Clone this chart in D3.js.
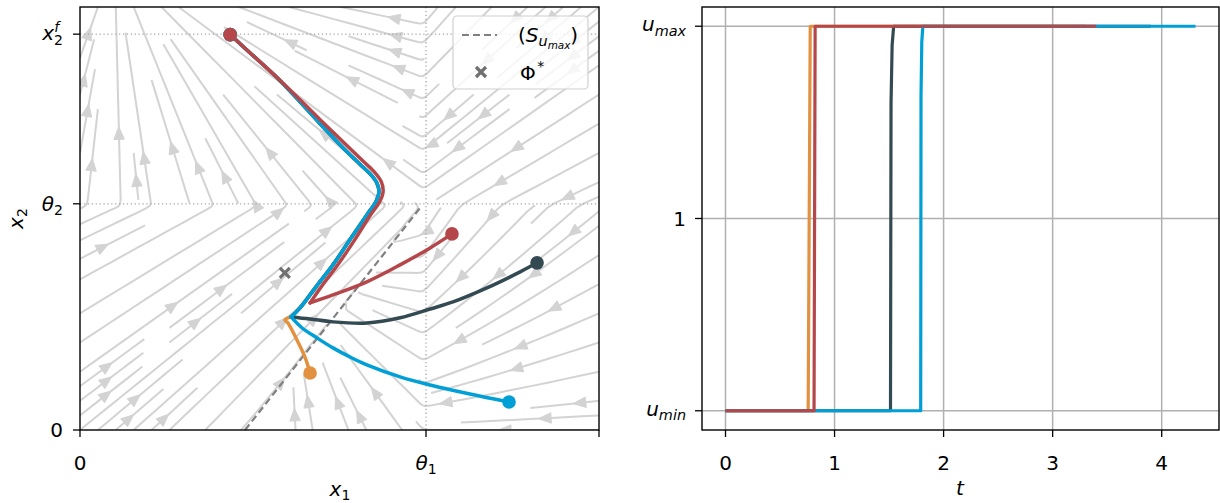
<!DOCTYPE html>
<html><head><meta charset="utf-8">
<script src="https://cdn.jsdelivr.net/npm/d3@7"></script>
<style>
body{margin:0;background:#fff}
svg{display:block}
text{font-family:"DejaVu Sans",sans-serif;fill:#000}
</style>
</head><body>
<svg id="c" width="1220" height="503"></svg>
<script>
// ================= DATA =================
const theta1 = 1.0, theta2 = 1.0, x2f = 1.75;
const x1Max = 1.5, x2Max = 1.87;
const uMin = 0.5, uMax = 1.5;

// switching curve (S_umax) and Phi*
const sX1 = [0.477, 0.983];
const sX2 = [0.0, 0.982];
const phiStar = [0.592, 0.695];

// shared u_max arc (orange, dark, cyan)
const arcX1 = [0.610, 0.636, 0.682, 0.731, 0.780, 0.829, 0.855, 0.864, 0.858, 0.840, 0.809, 0.760, 0.694, 0.636, 0.564, 0.491, 0.434];
const arcX2 = [0.500, 0.540, 0.633, 0.730, 0.841, 0.951, 1.009, 1.053, 1.092, 1.130, 1.175, 1.248, 1.354, 1.451, 1.566, 1.668, 1.748];

// u_min parts
const orangeX1 = [0.665, 0.650, 0.627, 0.601, 0.592, 0.610];
const orangeX2 = [0.252, 0.323, 0.398, 0.473, 0.487, 0.500];
const darkX1 = [1.321, 1.272, 1.176, 1.078, 1.012, 0.925, 0.829, 0.731, 0.665, 0.610];
const darkX2 = [0.739, 0.699, 0.628, 0.566, 0.535, 0.496, 0.473, 0.478, 0.491, 0.500];
const cyanX1 = [1.240, 1.127, 1.012, 0.925, 0.829, 0.780, 0.731, 0.685, 0.642, 0.610];
const cyanX2 = [0.124, 0.159, 0.199, 0.235, 0.288, 0.323, 0.363, 0.407, 0.451, 0.500];
const redX1 = [1.075, 1.012, 0.925, 0.829, 0.731, 0.665];
const redX2 = [0.867, 0.805, 0.730, 0.655, 0.597, 0.562];
// red u_max part
const redArcX1 = [0.665, 0.699, 0.743, 0.792, 0.838, 0.866, 0.876, 0.871, 0.850, 0.817, 0.766, 0.694, 0.636, 0.564, 0.491, 0.434];
const redArcX2 = [0.562, 0.637, 0.726, 0.836, 0.947, 1.009, 1.053, 1.097, 1.142, 1.190, 1.265, 1.372, 1.460, 1.566, 1.668, 1.748];

// control u(t)
const tOrange = [0, 0.758, 0.777, 3.30];
const uOrange = [uMin, uMin, uMax, uMax];
const tDark = [0, 1.513, 1.518, 1.528, 1.542, 3.90];
const uDark = [uMin, uMin, 1.30, 1.45, uMax, uMax];
const tCyan = [0, 1.790, 1.793, 1.800, 1.810, 4.31];
const uCyan = [uMin, uMin, 1.32, 1.46, uMax, uMax];
const tRed = [0, 0.812, 0.822, 3.40];
const uRed = [uMin, uMin, uMax, uMax];

const tTicks = [0, 1, 2, 3, 4];

// background vector field: region targets / rates
const targetUL = [0.10, 2.08];
const targetUR = [0.0, 0.0];
const targetLR = [0.5, 0.0];
const ratesLR = [1.0, 1.3];
const targetLLmax = [1.7, 2.1];
const targetLLmin = [0.6, 0.7];

const colors = {orange: "#e1913f", dark: "#334a52", cyan: "#00a0d6", red: "#b5474b"};

// ================= LAYOUT =================
const svg = d3.select("#c");
const L = {x0: 80, x1: 599, y0: 7, y1: 430};
const R = {x0: 702, x1: 1219, y0: 7, y1: 430};
const FS = 20, TL = 7;

const xS = d3.scaleLinear().domain([0, x1Max]).range([L.x0, L.x1]);
const yS = d3.scaleLinear().domain([0, x2Max]).range([L.y1, L.y0]);

const tAll = [...tOrange, ...tDark, ...tCyan, ...tRed];
const tExt = d3.extent(tAll), tPad = (tExt[1] - tExt[0]) * 0.05;
const tx = d3.scaleLinear().domain([tExt[0] - tPad, tExt[1] + tPad]).range([R.x0, R.x1]);
const uPad = (uMax - uMin) * 0.05;
const uy = d3.scaleLinear().domain([uMin - uPad, uMax + uPad]).range([R.y1, R.y0]);

// math text helper
function mtext(g, x, y, parts, anchor, size, extra) {
  const t = g.append("text").attr("x", x).attr("y", y).attr("text-anchor", anchor || "start")
    .attr("font-size", size);
  if (extra) extra(t);
  let cur = 0;
  parts.forEach(p => {
    const sh = (p.sh || 0) * size;
    const ts = t.append("tspan").attr("dy", (sh - cur).toFixed(2))
      .attr("font-style", p.it ? "italic" : "normal")
      .attr("font-size", (p.sc || 1) * size).text(p.t);
    if (p.dx) ts.attr("dx", p.dx * size);
    cur = sh;
  });
  return t;
}

// ================= LEFT PANEL =================
const gL = svg.append("g");
svg.append("defs").append("clipPath").attr("id", "clipL").append("rect")
  .attr("x", L.x0).attr("y", L.y0).attr("width", L.x1 - L.x0).attr("height", L.y1 - L.y0);

function field(x1, x2) {
  let T, g = [1, 1];
  if (x2 >= theta2) {
    T = x1 < theta1 ? targetUL : targetUR;
  } else if (x1 >= theta1) {
    T = targetLR; g = ratesLR;
  } else {
    const sAt = sX1[0] + (sX1[1] - sX1[0]) * (x2 - sX2[0]) / (sX2[1] - sX2[0]);
    T = x1 < sAt ? targetLLmax : targetLLmin;
  }
  return [g[0] * (T[0] - x1), g[1] * (T[1] - x2)];
}

function streamplot() {
  const NG = 100, NM = 30;
  const Ug = new Float64Array(NG * NG), Vg = new Float64Array(NG * NG);
  for (let j = 0; j < NG; j++) for (let i = 0; i < NG; i++) {
    const v = field(i / (NG - 1) * x1Max, j / (NG - 1) * x2Max);
    Ug[j * NG + i] = v[0] / x1Max; Vg[j * NG + i] = v[1] / x2Max;
  }
  function interp(a, ax, ay) {
    const xg = ax * (NG - 1), yg = ay * (NG - 1);
    let i = Math.floor(xg), j = Math.floor(yg);
    if (i > NG - 2) i = NG - 2; if (j > NG - 2) j = NG - 2;
    const fx = xg - i, fy = yg - j;
    const a00 = a[j * NG + i], a01 = a[j * NG + i + 1], a10 = a[(j + 1) * NG + i], a11 = a[(j + 1) * NG + i + 1];
    return (a00 * (1 - fx) + a01 * fx) * (1 - fy) + (a10 * (1 - fx) + a11 * fx) * fy;
  }
  const inside = (x, y) => x >= 0 && x <= 1 && y >= 0 && y <= 1;
  function f(x, y, sg) {
    if (!inside(x, y)) throw "oob";
    const u = interp(Ug, x, y), v = interp(Vg, x, y);
    const s = Math.hypot(u, v);
    if (s === 0) throw "term";
    return [sg * u / s, sg * v / s];
  }
  const mask = new Uint8Array(NM * NM);
  let traj = [], cur = null;
  const mc = (x, y) => [Math.round(x * (NM - 1)), Math.round(y * (NM - 1))];
  function update(x, y) {
    if (!inside(x, y)) return false;
    const [xm, ym] = mc(x, y);
    if (!cur || cur[0] !== xm || cur[1] !== ym) {
      if (mask[ym * NM + xm] === 0) { traj.push(ym * NM + xm); mask[ym * NM + xm] = 1; cur = [xm, ym]; }
      else return false;
    }
    return true;
  }
  function rk12(x0, y0, sg) {
    const maxerror = 0.003, maxds = Math.min(1 / NM, 0.1), maxlength = 4;
    let ds = maxds, stotal = 0, xi = x0, yi = y0, it = 0;
    const pts = [];
    while (it++ < 20000) {
      let k1, k2;
      try {
        if (inside(xi, yi)) pts.push([xi, yi]); else throw "oob";
        k1 = f(xi, yi, sg);
        k2 = f(xi + ds * k1[0], yi + ds * k1[1], sg);
      } catch (e) {
        if (e === "oob" && pts.length) {
          const [px, py] = pts[pts.length - 1];
          try {
            const c = f(px, py, sg);
            const dsx = c[0] === 0 ? Infinity : (c[0] < 0 ? px / -c[0] : (1 - px) / c[0]);
            const dsy = c[1] === 0 ? Infinity : (c[1] < 0 ? py / -c[1] : (1 - py) / c[1]);
            const d = Math.min(dsx, dsy);
            if (isFinite(d)) { pts.push([px + c[0] * d, py + c[1] * d]); stotal += d; }
          } catch (e2) {}
        }
        break;
      }
      const dx1 = ds * k1[0], dy1 = ds * k1[1];
      const dx2 = ds * 0.5 * (k1[0] + k2[0]), dy2 = ds * 0.5 * (k1[1] + k2[1]);
      const err = Math.hypot(dx2 - dx1, dy2 - dy1);
      if (err < maxerror) {
        xi += dx2; yi += dy2;
        if (!update(xi, yi)) break;
        if (stotal + ds > maxlength) break;
        stotal += ds;
      }
      ds = err === 0 ? maxds : Math.min(maxds, 0.85 * ds * Math.sqrt(maxerror / err));
      if (ds < 1e-6) break;
    }
    return [stotal, pts];
  }
  function integrate(x0, y0) {
    traj = []; cur = null;
    if (!update(x0, y0)) return null;
    const [sb, pb] = rk12(x0, y0, -1);
    cur = mc(x0, y0);
    const [sf, pf] = rk12(x0, y0, 1);
    const all = pb.reverse().concat(pf.slice(1));
    if (sb + sf > 0.1) return all;
    traj.forEach(k => mask[k] = 0);
    return null;
  }
  // spiral seeds
  const seeds = [];
  {
    let xfirst = 0, yfirst = 1, xlast = NM - 1, ylast = NM - 1, x = 0, y = 0, dir = "right";
    for (let i = 0; i < NM * NM; i++) {
      seeds.push([x, y]);
      if (dir === "right") { x++; if (x >= xlast) { xlast--; dir = "up"; } }
      else if (dir === "up") { y++; if (y >= ylast) { ylast--; dir = "left"; } }
      else if (dir === "left") { x--; if (x <= xfirst) { xfirst++; dir = "down"; } }
      else { y--; if (y <= yfirst) { yfirst++; dir = "right"; } }
    }
  }
  const out = [];
  seeds.forEach(([xm, ym]) => {
    if (mask[ym * NM + xm] === 0) {
      const t = integrate(xm / (NM - 1), ym / (NM - 1));
      if (t) out.push(t.map(p => [p[0] * x1Max, p[1] * x2Max]));
    }
  });
  return out;
}

const streams = streamplot();
const gStream = gL.append("g").attr("clip-path", "url(#clipL)");
const sline = d3.line().x(d => xS(d[0])).y(d => yS(d[1]));
const SC = "#d3d3d3";
streams.forEach(tr => {
  gStream.append("path").attr("d", sline(tr)).attr("fill", "none")
    .attr("stroke", SC).attr("stroke-width", 2).attr("stroke-linejoin", "round");
});
streams.forEach(tr => {
  if (tr.length < 2) return;
  const s = [0];
  for (let i = 1; i < tr.length; i++) s.push(s[i - 1] + Math.hypot(tr[i][0] - tr[i - 1][0], tr[i][1] - tr[i - 1][1]));
  const cum = s.slice(1);
  const half = cum[cum.length - 1] / 2;
  let n = d3.bisectLeft(cum, half);
  if (n + 1 >= tr.length) return;
  const P = [xS(tr[n][0]), yS(tr[n][1])];
  const Q = [(xS(tr[n][0]) + xS(tr[n + 1][0])) / 2, (yS(tr[n][1]) + yS(tr[n + 1][1])) / 2];
  let dx = Q[0] - P[0], dy = Q[1] - P[1];
  const len = Math.hypot(dx, dy);
  if (len < 1e-9) return;
  dx /= len; dy /= len;
  const Lh = 12.5, W = 5.2;
  const bx = Q[0] - dx * Lh, by = Q[1] - dy * Lh;
  gStream.append("path")
    .attr("d", `M${Q[0]},${Q[1]}L${bx - dy * W},${by + dx * W}L${bx + dy * W},${by - dx * W}Z`)
    .attr("fill", SC).attr("stroke", SC).attr("stroke-width", 1);
});

// dotted reference lines
const gRef = gL.append("g");
[x2f, theta2].forEach(v => gRef.append("line").attr("x1", L.x0).attr("x2", L.x1)
  .attr("y1", yS(v)).attr("y2", yS(v)).attr("stroke", "#a8a8a8").attr("stroke-width", 1.3)
  .attr("stroke-dasharray", "1.3,2.6"));
gRef.append("line").attr("x1", xS(theta1)).attr("x2", xS(theta1)).attr("y1", L.y0).attr("y2", L.y1)
  .attr("stroke", "#a8a8a8").attr("stroke-width", 1.3).attr("stroke-dasharray", "1.3,2.6");

// switching curve
gL.append("path").attr("d", sline(sX1.map((v, i) => [v, sX2[i]])))
  .attr("fill", "none").attr("stroke", "#808080").attr("stroke-width", 2.2).attr("stroke-dasharray", "7,4");

// trajectories
const pairs = (a, b) => a.map((v, i) => [v, b[i]]);
const curve = d3.line().x(d => xS(d[0])).y(d => yS(d[1])).curve(d3.curveCatmullRom.alpha(0.5));
const trajs = [
  {c: colors.orange, parts: [pairs(orangeX1, orangeX2), pairs(arcX1, arcX2)]},
  {c: colors.dark, parts: [pairs(darkX1, darkX2), pairs(arcX1, arcX2)]},
  {c: colors.cyan, parts: [pairs(cyanX1, cyanX2), pairs(arcX1, arcX2)]},
  {c: colors.red, parts: [pairs(redX1, redX2), pairs(redArcX1, redArcX2)]}
];
const gT = gL.append("g");
trajs.forEach(tr => {
  tr.parts.forEach(p => gT.append("path").attr("d", curve(p)).attr("fill", "none")
    .attr("stroke", tr.c).attr("stroke-width", 3.5).attr("stroke-linecap", "round").attr("stroke-linejoin", "round"));
});
// Phi* marker
function xMark(g, cx, cy, r, col) {
  g.append("path").attr("d", `M${cx - r},${cy - r}L${cx + r},${cy + r}M${cx - r},${cy + r}L${cx + r},${cy - r}`)
    .attr("stroke", col).attr("stroke-width", 3.2).attr("fill", "none");
}
xMark(gT, xS(phiStar[0]), yS(phiStar[1]), 5, "#707070");
// dots
trajs.forEach(tr => {
  const st = tr.parts[0][0], en = tr.parts[1][tr.parts[1].length - 1];
  [st, en].forEach(p => gT.append("circle").attr("cx", xS(p[0])).attr("cy", yS(p[1])).attr("r", 6.8).attr("fill", tr.c));
});

// spines & ticks (left)
const axL = gL.append("g");
axL.append("rect").attr("x", L.x0).attr("y", L.y0).attr("width", L.x1 - L.x0).attr("height", L.y1 - L.y0)
  .attr("fill", "none").attr("stroke", "#000").attr("stroke-width", 1.4);
const xTicksL = [0, theta1, x1Max];
const yTicksL = [0, theta2, x2f];
xTicksL.forEach(v => axL.append("line").attr("x1", xS(v)).attr("x2", xS(v)).attr("y1", L.y1).attr("y2", L.y1 + TL).attr("stroke", "#000").attr("stroke-width", 1.3));
yTicksL.forEach(v => axL.append("line").attr("x1", L.x0 - TL).attr("x2", L.x0).attr("y1", yS(v)).attr("y2", yS(v)).attr("stroke", "#000").attr("stroke-width", 1.3));
// tick labels
const xlY = 470, yLabEnd = L.x0 - 17;
mtext(axL, xS(0), xlY, [{t: "0"}], "middle", FS);
mtext(axL, xS(theta1), xlY, [{t: "θ", it: true}, {t: "1", sh: 0.22, sc: 0.7}], "middle", FS);
mtext(axL, yLabEnd, yS(0) + 7, [{t: "0"}], "end", FS);
mtext(axL, yLabEnd, yS(theta2) + 7, [{t: "θ", it: true}, {t: "2", sh: 0.22, sc: 0.7}], "end", FS);
mtext(axL, yLabEnd, yS(x2f) + 6, [{t: "x", it: true}, {t: "2", sh: 0.24, sc: 0.7}, {t: "f", it: true, sh: -0.42, sc: 0.7, dx: -0.44}], "end", FS);
// axis labels
mtext(axL, 340, 496, [{t: "x", it: true}, {t: "1", sh: 0.22, sc: 0.7}], "middle", FS);
mtext(axL, 0, 0, [{t: "x", it: true}, {t: "2", sh: 0.22, sc: 0.7}], "middle", FS,
  t => t.attr("transform", `translate(23,${(L.y0 + L.y1) / 2}) rotate(-90)`));

// legend
const lg = gL.append("g");
lg.append("rect").attr("x", 453).attr("y", 16).attr("width", 135).attr("height", 73).attr("rx", 4)
  .attr("fill", "#fff").attr("fill-opacity", 0.8).attr("stroke", "#d0d0d0").attr("stroke-width", 1.2);
lg.append("line").attr("x1", 462).attr("x2", 497).attr("y1", 35).attr("y2", 35)
  .attr("stroke", "#808080").attr("stroke-width", 2.2).attr("stroke-dasharray", "7,4");
mtext(lg, 518, 42, [{t: "("}, {t: "S", it: true}, {t: "u", it: true, sh: 0.22, sc: 0.72}, {t: "max", it: true, sh: 0.36, sc: 0.52}, {t: ")", sh: 0}], "start", FS);
xMark(lg, 481, 72, 5, "#707070");
mtext(lg, 520, 80, [{t: "Φ"}, {t: "*", sh: -0.45, sc: 0.7, dx: 0.08}], "start", FS);

// ================= RIGHT PANEL =================
const gR = svg.append("g");
// grid
tTicks.forEach(v => gR.append("line").attr("x1", tx(v)).attr("x2", tx(v)).attr("y1", R.y0).attr("y2", R.y1)
  .attr("stroke", "#b0b0b0").attr("stroke-width", 1.5));
const uTicks = [uMin, 1, uMax];
uTicks.forEach(v => gR.append("line").attr("x1", R.x0).attr("x2", R.x1).attr("y1", uy(v)).attr("y2", uy(v))
  .attr("stroke", "#b0b0b0").attr("stroke-width", 1.5));
// series
const uline = d3.line().x(d => tx(d[0])).y(d => uy(d[1]));
[[tOrange, uOrange, colors.orange], [tDark, uDark, colors.dark], [tCyan, uCyan, colors.cyan], [tRed, uRed, colors.red]]
  .forEach(([t, u, c]) => gR.append("path").attr("d", uline(pairs(t, u))).attr("fill", "none")
    .attr("stroke", c).attr("stroke-width", 3.2).attr("stroke-linejoin", "round"));
// spines, ticks
gR.append("rect").attr("x", R.x0).attr("y", R.y0).attr("width", R.x1 - R.x0).attr("height", R.y1 - R.y0)
  .attr("fill", "none").attr("stroke", "#000").attr("stroke-width", 1.4);
tTicks.forEach(v => {
  gR.append("line").attr("x1", tx(v)).attr("x2", tx(v)).attr("y1", R.y1).attr("y2", R.y1 + TL).attr("stroke", "#000").attr("stroke-width", 1.3);
  mtext(gR, tx(v), xlY, [{t: String(v)}], "middle", FS);
});
uTicks.forEach(v => gR.append("line").attr("x1", R.x0 - TL).attr("x2", R.x0).attr("y1", uy(v)).attr("y2", uy(v)).attr("stroke", "#000").attr("stroke-width", 1.3));
const uLabEnd = R.x0 - 16;
mtext(gR, uLabEnd, uy(uMax) + 5, [{t: "u", it: true}, {t: "max", it: true, sh: 0.22, sc: 0.72}], "end", FS);
mtext(gR, uLabEnd, uy(1) + 7, [{t: "1"}], "end", FS);
mtext(gR, uLabEnd, uy(uMin) + 5, [{t: "u", it: true}, {t: "min", it: true, sh: 0.22, sc: 0.72}], "end", FS);
mtext(gR, 960, 495, [{t: "t", it: true}], "middle", FS);
</script>
</body></html>
